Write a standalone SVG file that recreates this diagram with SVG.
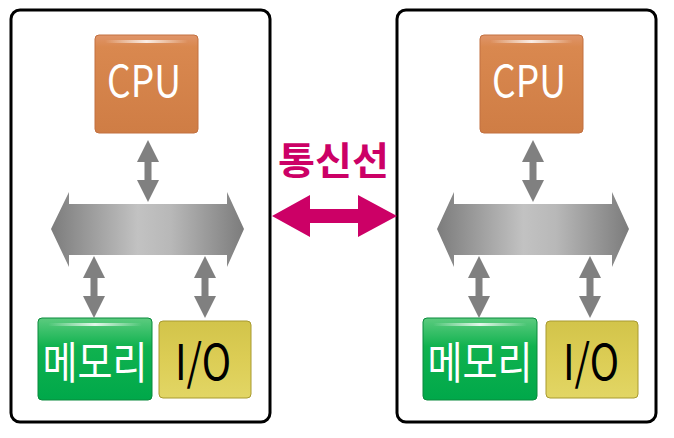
<svg xmlns="http://www.w3.org/2000/svg" width="674" height="438" viewBox="0 0 674 438">
<defs>
<linearGradient id="gCpu" x1="0" y1="0" x2="0" y2="1">
<stop offset="0" stop-color="#e0956a"/><stop offset="0.12" stop-color="#d9884f"/><stop offset="1" stop-color="#cf7d45"/>
</linearGradient>
<linearGradient id="gMem" x1="0" y1="0" x2="0" y2="1">
<stop offset="0" stop-color="#5ccb7f"/><stop offset="0.35" stop-color="#10b24f"/><stop offset="1" stop-color="#00a84a"/>
</linearGradient>
<linearGradient id="gIo" x1="0" y1="0" x2="0" y2="1">
<stop offset="0" stop-color="#d2c44a"/><stop offset="0.5" stop-color="#dccd55"/><stop offset="1" stop-color="#e2d665"/>
</linearGradient>
<linearGradient id="gBus" x1="0" y1="0" x2="1" y2="0">
<stop offset="0" stop-color="#7c7c7c"/><stop offset="0.45" stop-color="#c2c2c2"/><stop offset="0.62" stop-color="#b8b8b8"/><stop offset="1" stop-color="#7c7c7c"/>
</linearGradient>
<linearGradient id="gShine" x1="0" y1="0" x2="1" y2="0">
<stop offset="0" stop-color="#fff" stop-opacity="0"/><stop offset="0.5" stop-color="#fff" stop-opacity="0.85"/><stop offset="1" stop-color="#fff" stop-opacity="0"/>
</linearGradient>
<g id="v-arrow">
<path d="M0,0 L11,22 L3.5,22 L3.5,40 L11,40 L0,62 L-11,40 L-3.5,40 L-3.5,22 L-11,22 Z" fill="#808080"/>
</g>
</defs>
<style>
.panel{fill:#fff;stroke:#000;stroke-width:3}
.t{font-family:"Noto Sans CJK KR","Noto Sans",sans-serif;text-anchor:middle}
.w{fill:#fff}
.shine{fill:url(#gShine)}
</style>
<rect width="674" height="438" fill="#fff"/>
<g id="panel-left">
<rect class="panel" x="11" y="10" width="259" height="412" rx="9"/>
<g id="cpu-left">
<rect x="95" y="35" width="103" height="98" rx="4" fill="url(#gCpu)" stroke="#c27040" stroke-width="1"/>
<rect class="shine" x="105" y="40" width="83" height="3" rx="1.5"/>
<text class="t w" x="144" y="97" font-size="44" textLength="74" lengthAdjust="spacingAndGlyphs">CPU</text>
</g>
<g id="bus-left">
<path d="M51,229 L69,192 L69,204 L227,204 L227,192 L244,229 L227,267 L227,255 L69,255 L69,267 Z" fill="url(#gBus)"/>
</g>
<g id="mem-left">
<rect x="38" y="318" width="114" height="82" rx="4" fill="url(#gMem)" stroke="#0a8a3c" stroke-width="1"/>
<rect class="shine" x="48" y="323" width="94" height="3" rx="1.5"/>
<text class="t w" x="95" y="379" font-size="44" textLength="105" lengthAdjust="spacingAndGlyphs">메모리</text>
</g>
<g id="io-left">
<rect x="159" y="321" width="92" height="77" rx="4" fill="url(#gIo)" stroke="#a89a30" stroke-width="1"/>
<text class="t" x="203" y="380" font-size="49" fill="#000" textLength="56" lengthAdjust="spacingAndGlyphs">I/O</text>
</g>
</g>
<g id="panel-right">
<rect class="panel" x="397" y="10" width="259" height="412" rx="9"/>
<g id="cpu-right">
<rect x="480" y="35" width="103" height="98" rx="4" fill="url(#gCpu)" stroke="#c27040" stroke-width="1"/>
<rect class="shine" x="490" y="40" width="83" height="3" rx="1.5"/>
<text class="t w" x="529" y="97" font-size="44" textLength="74" lengthAdjust="spacingAndGlyphs">CPU</text>
</g>
<g id="bus-right">
<path d="M437,229 L454,192 L454,204 L612,204 L612,192 L629,229 L612,267 L612,255 L454,255 L454,267 Z" fill="url(#gBus)"/>
</g>
<g id="mem-right">
<rect x="423" y="318" width="114" height="82" rx="4" fill="url(#gMem)" stroke="#0a8a3c" stroke-width="1"/>
<rect class="shine" x="433" y="323" width="94" height="3" rx="1.5"/>
<text class="t w" x="480" y="379" font-size="44" textLength="105" lengthAdjust="spacingAndGlyphs">메모리</text>
</g>
<g id="io-right">
<rect x="546" y="321" width="92" height="77" rx="4" fill="url(#gIo)" stroke="#a89a30" stroke-width="1"/>
<text class="t" x="591" y="380" font-size="49" fill="#000" textLength="56" lengthAdjust="spacingAndGlyphs">I/O</text>
</g>
</g>
<g id="connectors">
<use href="#v-arrow" x="148" y="140"/>
<use href="#v-arrow" x="94" y="256"/>
<use href="#v-arrow" x="205" y="256"/>
<use href="#v-arrow" x="533" y="140"/>
<use href="#v-arrow" x="479" y="256"/>
<use href="#v-arrow" x="590" y="256"/>
<path id="link" d="M272,216 L310,195 L310,209 L358,209 L358,195 L397,216 L358,237 L358,223 L310,223 L310,237 Z" fill="#cc0066"/>
<text class="t" x="333.5" y="174" font-size="38" font-weight="bold" fill="#cc0066" textLength="111" lengthAdjust="spacingAndGlyphs">통신선</text>
</g>
</svg>
